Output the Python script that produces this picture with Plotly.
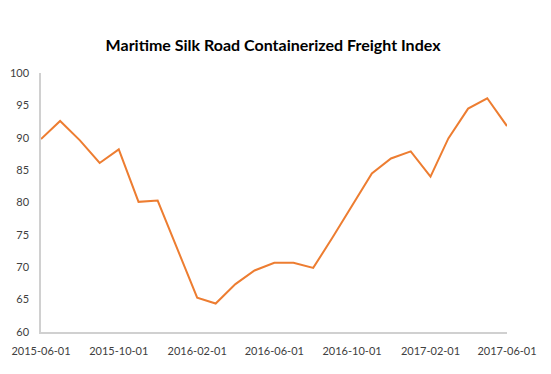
import plotly.graph_objects as go

months = ["2015-06-01", "2015-07-01", "2015-08-01", "2015-09-01", "2015-10-01",
          "2015-11-01", "2015-12-01", "2016-01-01", "2016-02-01", "2016-03-01",
          "2016-04-01", "2016-05-01", "2016-06-01", "2016-07-01", "2016-08-01",
          "2016-09-01", "2016-10-01", "2016-11-01", "2016-12-01", "2017-01-01",
          "2017-02-01", "2017-03-01", "2017-04-01", "2017-05-01", "2017-06-01"]
index_values = [89.8, 92.6, 89.6, 86.1, 88.2,
                80.1, 80.3, 72.8, 65.3, 64.4,
                67.4, 69.5, 70.7, 70.7, 69.9,
                74.7, 79.5, 84.5, 86.8, 87.9,
                84.0, 89.9, 94.5, 96.1, 91.8]
tick_dates = ["2015-06-01", "2015-10-01", "2016-02-01", "2016-06-01",
              "2016-10-01", "2017-02-01", "2017-06-01"]
tick_labels = tick_dates

fig = go.Figure()
fig.add_trace(go.Scatter(
    x=months, y=index_values, mode="lines",
    line=dict(color="#ED7D31", width=2),
    hoverinfo="x+y", showlegend=False,
))

fig.update_layout(
    width=551, height=374,
    margin=dict(l=33, r=52, t=65, b=50, autoexpand=False),
    paper_bgcolor="white", plot_bgcolor="white",
    title=dict(text="<b>Maritime Silk Road Containerized Freight Index</b>",
               x=0.498, xanchor="center", y=0.901, yanchor="middle",
               yref="container", xref="paper",
               font=dict(family="Lato, Open Sans, sans-serif", size=16, color="#000000")),
    font=dict(family="Lato, Open Sans, sans-serif", size=11, color="#404040"),
    xaxis=dict(type="date", range=["2015-06-01", "2017-06-01"],
               tickvals=tick_dates, ticktext=tick_labels,
               showgrid=False, zeroline=False, automargin=False,
               showline=True, linecolor="#d0d0d0", linewidth=1.5,
               ticks="", ticklabelstandoff=8,
               tickfont=dict(size=11, color="#404040")),
    yaxis=dict(range=[60, 100], dtick=5, tick0=60,
               showgrid=False, zeroline=False, automargin=False,
               showline=True, linecolor="#d0d0d0", linewidth=1.5,
               ticks="", ticklabelstandoff=8,
               tickfont=dict(size=11, color="#404040")),
)

fig.write_html("out.html")
